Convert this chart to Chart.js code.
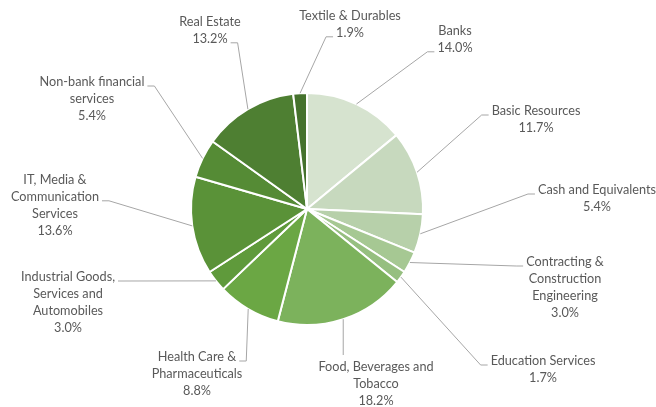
<!DOCTYPE html>
<html>
<head>
<meta charset="utf-8">
<script src="https://cdn.jsdelivr.net/npm/chart.js@4.4.1/dist/chart.umd.min.js"></script>
<style>
  html, body { margin: 0; padding: 0; background: #fff; }
  #wrap { width: 656px; height: 407px; position: relative; }
</style>
</head>
<body>
<div id="wrap"><canvas id="myChart"></canvas></div>
<script>
// data, clockwise from 12 o'clock
const categories = [
  ['Banks'],
  ['Basic Resources'],
  ['Cash and Equivalents'],
  ['Contracting &', 'Construction', 'Engineering'],
  ['Education Services'],
  ['Food, Beverages and', 'Tobacco'],
  ['Health Care &', 'Pharmaceuticals'],
  ['Industrial Goods,', 'Services and', 'Automobiles'],
  ['IT, Media &', 'Communication', 'Services'],
  ['Non-bank financial', 'services'],
  ['Real Estate'],
  ['Textile & Durables']
];
const shares = [14.0, 11.7, 5.4, 3.0, 1.7, 18.2, 8.8, 3.0, 13.6, 5.4, 13.2, 1.9];
const sliceColors = [
  '#d6e3cf', '#c7d9be', '#b7d0aa', '#a6c893', '#96bf80', '#7cb25c',
  '#6ba744', '#5f9a3b', '#5a9238', '#558b35', '#4e7f32', '#45722d'
];

// where each label sits: centre x, first line y, side the leader joins, line it joins
const labelLayout = [
  [455, 31, 'left', 1],
  [536, 111, 'left', 0],
  [597, 190, 'left', 0],
  [565, 262, 'left', 0],
  [543, 361, 'left', 0],
  [376, 367, 'top', 0],
  [197, 357, 'right', 0],
  [68, 277, 'right', 0],
  [55, 180, 'right', 1],
  [92, 82, 'right', 0],
  [210, 22, 'right', 1],
  [350, 16, 'left', 1]
];

const FONT = '12.7px Lato';
const LINE_H = 16.8;

const outsideLabels = {
  id: 'outsideLabels',
  afterDatasetsDraw(chart) {
    const c = chart.ctx;
    const arcs = chart.getDatasetMeta(0).data;
    c.save();
    c.font = FONT;
    c.textBaseline = 'middle';
    c.textAlign = 'center';
    arcs.forEach((arc, i) => {
      const p = arc.getProps(['x', 'y', 'startAngle', 'endAngle', 'outerRadius'], true);
      const mid = (p.startAngle + p.endAngle) / 2;
      const px = p.x + Math.cos(mid) * p.outerRadius;
      const py = p.y + Math.sin(mid) * p.outerRadius;

      const lines = categories[i].concat([shares[i].toFixed(1) + '%']);
      const [lx, ly, side, li] = labelLayout[i];

      // leader line
      c.strokeStyle = '#a6a6a6';
      c.lineWidth = 1;
      c.beginPath();
      c.moveTo(px, py);
      if (side === 'top') {
        c.lineTo(px, ly - 12);
      } else {
        const w = c.measureText(lines[li]).width;
        const ay = ly + li * LINE_H + 4;
        const ax = side === 'left' ? lx - w / 2 - 3 : lx + w / 2 + 3;
        const ex = side === 'left' ? ax - 7 : ax + 7;
        c.lineTo(ex, ay);
        c.lineTo(ax, ay);
      }
      c.stroke();

      c.fillStyle = '#595959';
      lines.forEach((t, k) => c.fillText(t, lx, ly + k * LINE_H));
    });
    c.restore();
  }
};

const ctx = document.getElementById('myChart');

new Chart(ctx, {
  type: 'pie',
  data: {
    labels: categories,
    datasets: [{
      data: shares,
      backgroundColor: sliceColors,
      borderColor: '#ffffff',
      borderWidth: 2
    }]
  },
  options: {
    responsive: true,
    maintainAspectRatio: false,
    animation: false,
    layout: { padding: { left: 190, right: 232, top: 92, bottom: 81 } },
    plugins: {
      legend: { display: false },
      tooltip: { enabled: false }
    }
  },
  plugins: [outsideLabels]
});
</script>
</body>
</html>
